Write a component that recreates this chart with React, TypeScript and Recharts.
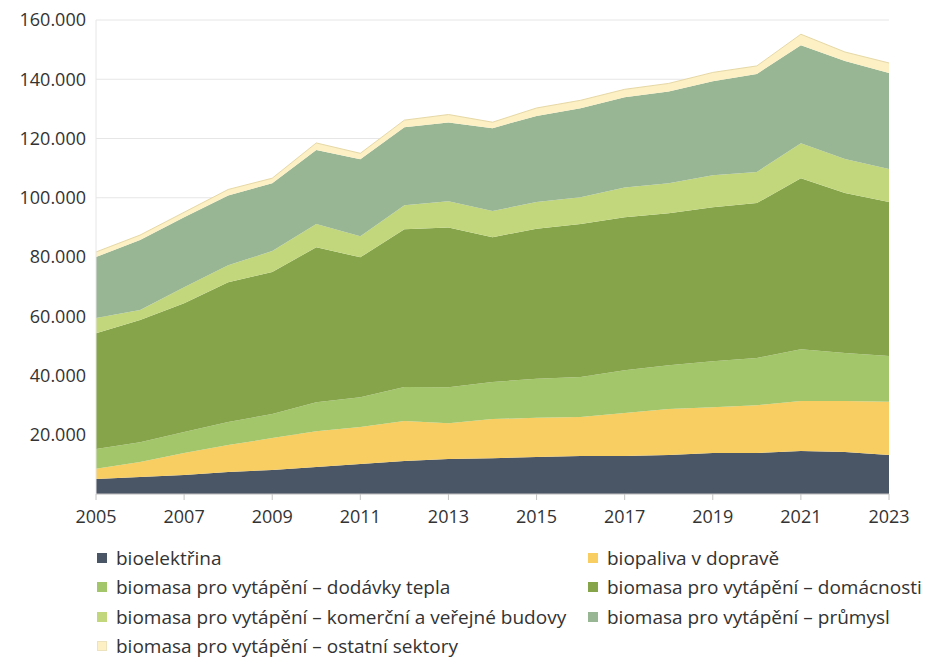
import { Area, AreaChart, CartesianGrid, XAxis, YAxis } from 'recharts';

const YEARS = [2005, 2006, 2007, 2008, 2009, 2010, 2011, 2012, 2013, 2014, 2015, 2016, 2017, 2018, 2019, 2020, 2021, 2022, 2023];

const BIOELEKTRINA = [5100, 5700, 6400, 7400, 8100, 9100, 10100, 11100, 11800, 12100, 12500, 12800, 12800, 13200, 13800, 13800, 14500, 14200, 13200];
const BIOPALIVA = [3400, 5100, 7400, 9100, 10800, 12100, 12500, 13500, 12100, 13200, 13200, 13200, 14500, 15500, 15500, 16200, 16900, 17200, 17900];
const DODAVKY_TEPLA = [6700, 6700, 7100, 7800, 8100, 9800, 10100, 11500, 12100, 12500, 13200, 13500, 14500, 14800, 15500, 15900, 17500, 16200, 15500];
const DOMACNOSTI = [39100, 41200, 43500, 47200, 47900, 52300, 47200, 53300, 54000, 48900, 50600, 51600, 51600, 51300, 52000, 52300, 57700, 54000, 52000];
const KOMERCNI = [5100, 3400, 5400, 5700, 7100, 7800, 7100, 8100, 8800, 8800, 9100, 9100, 10100, 10100, 10800, 10500, 11800, 11500, 11100];
const PRUMYSL = [20600, 23600, 23600, 23600, 22900, 25000, 26000, 26300, 26600, 28000, 29000, 30000, 30400, 31000, 31700, 33100, 33100, 33100, 32400];
const OSTATNI = [1700, 1700, 1700, 2000, 1700, 2400, 2000, 2400, 2700, 2000, 2700, 2700, 2700, 2700, 3000, 2700, 3700, 3000, 3400];

const X_TICKS = [2005, 2007, 2009, 2011, 2013, 2015, 2017, 2019, 2021, 2023];
const Y_TICKS = [20000, 40000, 60000, 80000, 100000, 120000, 140000, 160000];

// bottom to top, in stacking order
const SERIES = [
  { key: 'bioel', name: 'bioelektřina', values: BIOELEKTRINA, color: '#4a5566' },
  { key: 'biopal', name: 'biopaliva v dopravě', values: BIOPALIVA, color: '#f8cd62' },
  { key: 'dod', name: 'biomasa pro vytápění – dodávky tepla', values: DODAVKY_TEPLA, color: '#a3c66b' },
  { key: 'dom', name: 'biomasa pro vytápění – domácnosti', values: DOMACNOSTI, color: '#86a44a' },
  { key: 'kom', name: 'biomasa pro vytápění – komerční a veřejné budovy', values: KOMERCNI, color: '#c2d77b' },
  { key: 'prum', name: 'biomasa pro vytápění – průmysl', values: PRUMYSL, color: '#98b594' },
  { key: 'ost', name: 'biomasa pro vytápění – ostatní sektory', values: OSTATNI, color: '#fcf0c4' },
];

const FONT = '"Open Sans", "Noto Sans", sans-serif';
const TEXT = '#333333';

function format_thousands(v: number): string {
  return v.toString().replace(/\B(?=(\d{3})+(?!\d))/g, '.');
}

export default function App() {
  const data = YEARS.map((year, i) => {
    const row: Record<string, number> = { year };
    SERIES.forEach((s) => {
      row[s.key] = s.values[i];
    });
    return row;
  });

  return (
    <div style={{ position: 'relative', width: 937, height: 666, background: '#fff', fontFamily: FONT }}>
      <style>{'body { margin: 0; }'}</style>
      <AreaChart
        width={937}
        height={540}
        data={data}
        margin={{ top: 20, right: 48, bottom: 0, left: 0 }}
        style={{ fontFamily: FONT }}
      >
        <CartesianGrid stroke="#e6e6e6" vertical={false} />
        <XAxis
          dataKey="year"
          type="number"
          domain={[2005, 2023]}
          ticks={X_TICKS}
          height={46}
          stroke="#c4c4c4"
          tickSize={6}
          tickMargin={10}
          tick={{ fill: TEXT, fontSize: 18 }}
        />
        <YAxis
          type="number"
          domain={[0, 160000]}
          ticks={Y_TICKS}
          width={96}
          axisLine={{ stroke: '#e6e6e6' }}
          tickLine={false}
          tickMargin={4}
          tick={{ fill: TEXT, fontSize: 18 }}
          tickFormatter={format_thousands}
        />
        {SERIES.map((s) => (
          <Area
            key={s.key}
            dataKey={s.key}
            name={s.name}
            stackId="1"
            type="linear"
            fill={s.color}
            fillOpacity={1}
            stroke={s.key === 'ost' ? '#e6d8a6' : 'none'}
            strokeWidth={1}
            isAnimationActive={false}
          />
        ))}
      </AreaChart>
      <div
        style={{
          position: 'absolute',
          left: 97,
          top: 543,
          display: 'grid',
          gridTemplateColumns: '491px 345px',
          rowGap: 0,
          fontSize: 19,
          color: TEXT,
        }}
      >
        {SERIES.map((s) => (
          <div key={s.key} style={{ display: 'flex', alignItems: 'center', height: 29.5, whiteSpace: 'nowrap' }}>
            <span
              style={{
                display: 'inline-block',
                width: 10,
                height: 10,
                background: s.color,
                border: s.key === 'ost' ? '1px solid #ece2bd' : 'none',
                boxSizing: 'border-box',
                marginRight: 9,
                flexShrink: 0,
              }}
            />
            {s.name}
          </div>
        ))}
      </div>
    </div>
  );
}
